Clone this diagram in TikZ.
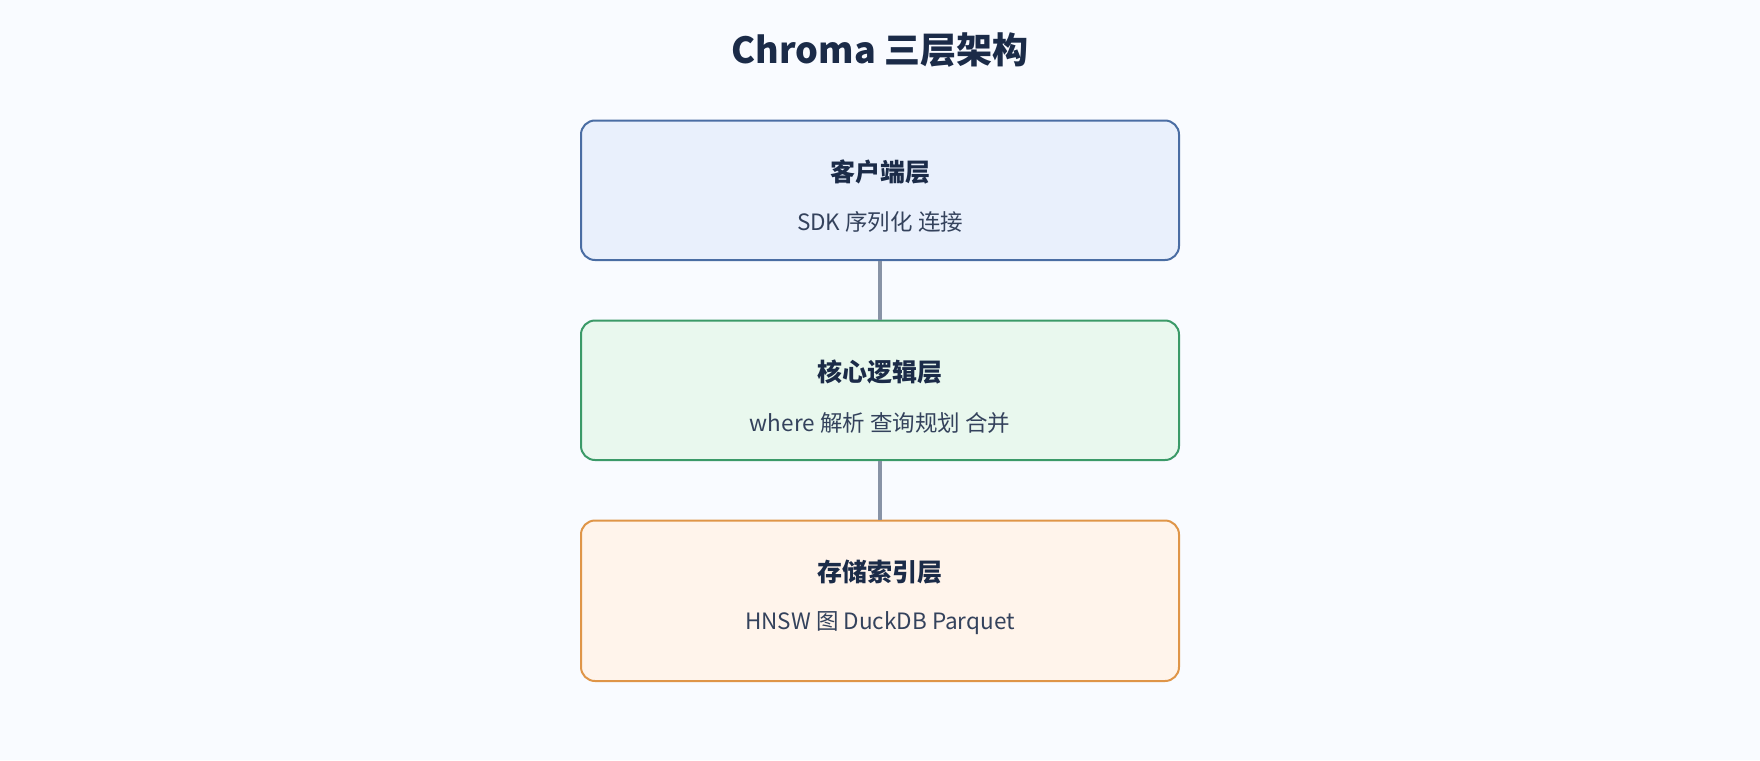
\documentclass[tikz,border=0pt]{standalone}
\usepackage{fontspec}
\setmainfont{Noto Sans CJK SC}
\usepackage{tikz}
\usetikzlibrary{positioning}
\definecolor{bgcol}{HTML}{F9FBFF}
\definecolor{inkcol}{HTML}{1B2B48}
\definecolor{subcol}{HTML}{34425C}
\definecolor{linkcol}{HTML}{8893A6}
\definecolor{clientfill}{HTML}{E9F0FC}
\definecolor{clientdraw}{HTML}{4A6DA3}
\definecolor{corefill}{HTML}{E9F8EE}
\definecolor{coredraw}{HTML}{3B9A68}
\definecolor{storefill}{HTML}{FFF4EB}
\definecolor{storedraw}{HTML}{DF9548}
\tikzset{
  layer/.style={rounded corners=14pt, line width=2pt, minimum width=598pt, anchor=north},
  layertitle/.style={font=\fontsize{25}{30}\selectfont\bfseries, text=inkcol},
  layersub/.style={font=\fontsize{22.5}{27}\selectfont, text=subcol},
  link/.style={linkcol, line width=4pt}
}
\begin{document}
\begin{tikzpicture}[x=1pt,y=-1pt]
	  \fill [bgcol] (0,0) rectangle (1760,760);
	  \useasboundingbox (0,0) rectangle (1760,760);
	  \node [font=\fontsize{36}{42}\selectfont\bfseries, text=inkcol] (title) at (880,50) {Chroma 三层架构};
	  % Layers
	  \node [layer, draw=clientdraw, fill=clientfill, minimum height=139.5pt] (client) at (880,119.5) {};
	  \node [layer, draw=coredraw, fill=corefill, minimum height=139.5pt] (core) at (880,319.5) {};
	  \node [layer, draw=storedraw, fill=storefill, minimum height=160.5pt] (store) at (880,519.5) {};
	  % Links
	  \draw [link] (client.south) -- (core.north);
	  \draw [link] (core.south) -- (store.north);
	  % Layer texts
	  \node [layertitle] (clienttitle) at (880,172) {客户端层};
	  \node [layersub] (clientsub) at (880,222) {SDK 序列化 连接};
	  \node [layertitle] (coretitle) at (880,372) {核心逻辑层};
	  \node [layersub] (coresub) at (880,423) {where 解析 查询规划 合并};
	  \node [layertitle] (storetitle) at (880,572) {存储索引层};
	  \node [layersub] (storesub) at (880,623) {HNSW 图 DuckDB Parquet};
	 \end{tikzpicture}
\end{document}
